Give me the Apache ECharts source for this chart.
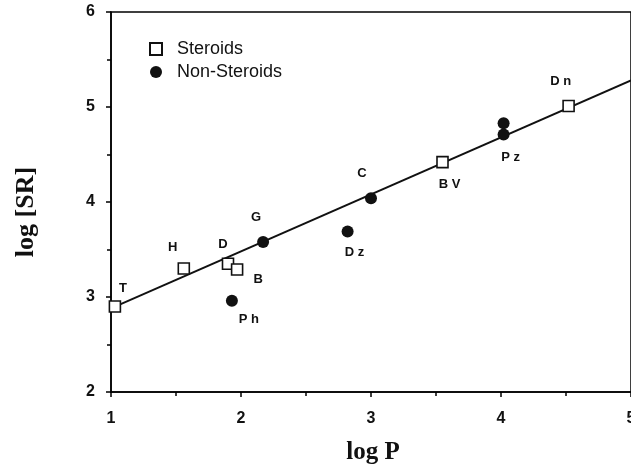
<!DOCTYPE html>
<html><head><meta charset="utf-8">
<script src="https://cdn.jsdelivr.net/npm/echarts@6/dist/echarts.min.js"></script>
<style>html,body{margin:0;padding:0;background:#fff;overflow:hidden}#c{width:631px;height:472px}</style>
</head><body><div id="c"></div>
<script>
// Steroids (open squares)
const steroidNames = ['T', 'H', 'D', 'B', 'BV', 'Dn'];
const steroidLogP  = [1.03, 1.56, 1.90, 1.97, 3.55, 4.52];
const steroidLogSR = [2.90, 3.30, 3.35, 3.29, 4.42, 5.01];
// Non-steroids (filled circles)
const nonSteroidNames = ['Ph', 'G', 'C', 'Dz', '', 'Pz'];
const nonSteroidLogP  = [1.93, 2.17, 3.00, 2.82, 4.02, 4.02];
const nonSteroidLogSR = [2.96, 3.58, 4.04, 3.69, 4.83, 4.71];
// Regression line end points
const fitLogP  = [1, 5];
const fitLogSR = [2.88, 5.28];
const xTicks = [1, 2, 3, 4, 5];
const yTicks = [2, 3, 4, 5, 6];

// label placement (pixel offsets from the marker)
const labelOffset = {
  T: [8, -18], H: [-11, -21], D: [-5, -19], B: [21, 10], BV: [7, 22], Dn: [-8, -25],
  Ph: [17, 19], G: [-7, -24], C: [-9, -25], Dz: [7, 21], Pz: [7, 23]
};
const labelFont = {fontFamily: 'Liberation Sans, Arial', fontWeight: 'bold', fontSize: 13, color: '#111'};

function pts(names, xs, ys) {
  return xs.map((x, i) => {
    const n = names[i];
    const o = labelOffset[n];
    return {
      value: [x, ys[i]], name: n,
      label: n ? Object.assign({show: true, formatter: n.split('').join(' '), position: 'inside', offset: o}, labelFont) : {show: false}
    };
  });
}

const chart = echarts.init(document.getElementById('c'), null, {renderer: 'canvas', width: 631, height: 472});
const axisLine = {show: true, lineStyle: {color: '#000', width: 1.5}};
chart.setOption({
  animation: false,
  backgroundColor: '#fff',
  grid: {left: 111, right: 0, top: 12, bottom: 80, show: true, borderColor: '#000', borderWidth: 1.5,
         containLabel: false, outerBoundsMode: 'none'},
  legend: {
    orient: 'vertical', left: 144, top: 35, itemWidth: 12, itemHeight: 12, itemGap: 5,
    textStyle: {fontFamily: 'Liberation Sans, Arial', fontSize: 18, color: '#111', padding: [0, 0, 0, 10]},
    data: ['Steroids', 'Non-Steroids']
  },
  xAxis: {
    type: 'value', min: xTicks[0], max: xTicks[xTicks.length - 1], interval: 1,
    axisLine: axisLine,
    axisTick: {show: true, length: 5, inside: false, lineStyle: {color: '#000', width: 1.5}},
    minorTick: {show: true, splitNumber: 2, length: 4, lineStyle: {color: '#000', width: 1.5}},
    splitLine: {show: false},
    axisLabel: {margin: 19, fontFamily: 'Liberation Sans, Arial', fontWeight: 'bold', fontSize: 16, color: '#111'},
    name: 'log P', nameLocation: 'middle', nameGap: 48,
    nameTextStyle: {fontFamily: 'Liberation Serif, Times New Roman', fontWeight: 'bold', fontSize: 25, color: '#111', padding: [0, 0, 0, 4]}
  },
  yAxis: {
    type: 'value', min: yTicks[0], max: yTicks[yTicks.length - 1], interval: 1,
    axisLine: axisLine,
    axisTick: {show: true, length: 5, inside: false, lineStyle: {color: '#000', width: 1.5}},
    minorTick: {show: true, splitNumber: 2, length: 4, lineStyle: {color: '#000', width: 1.5}},
    splitLine: {show: false},
    axisLabel: {margin: 16, fontFamily: 'Liberation Sans, Arial', fontWeight: 'bold', fontSize: 16, color: '#111'},
    name: 'log [SR]', nameLocation: 'middle', nameGap: 72, nameRotate: 90,
    nameTextStyle: {fontFamily: 'Liberation Serif, Times New Roman', fontWeight: 'bold', fontSize: 26, color: '#111', padding: [0, 20, 0, 0]}
  },
  series: [
    {
      name: 'fit', type: 'line', data: fitLogP.map((x, i) => [x, fitLogSR[i]]),
      showSymbol: false, symbol: 'none', lineStyle: {color: '#111', width: 2}, z: 1, silent: true
    },
    {
      name: 'Steroids', type: 'scatter', symbol: 'rect', symbolSize: 11,
      itemStyle: {color: '#fff', borderColor: '#111', borderWidth: 1.6, opacity: 1},
      data: pts(steroidNames, steroidLogP, steroidLogSR), z: 3
    },
    {
      name: 'Non-Steroids', type: 'scatter', symbol: 'circle', symbolSize: 12,
      itemStyle: {color: '#111', opacity: 1},
      data: pts(nonSteroidNames, nonSteroidLogP, nonSteroidLogSR), z: 3
    }
  ]
});
</script></body></html>
